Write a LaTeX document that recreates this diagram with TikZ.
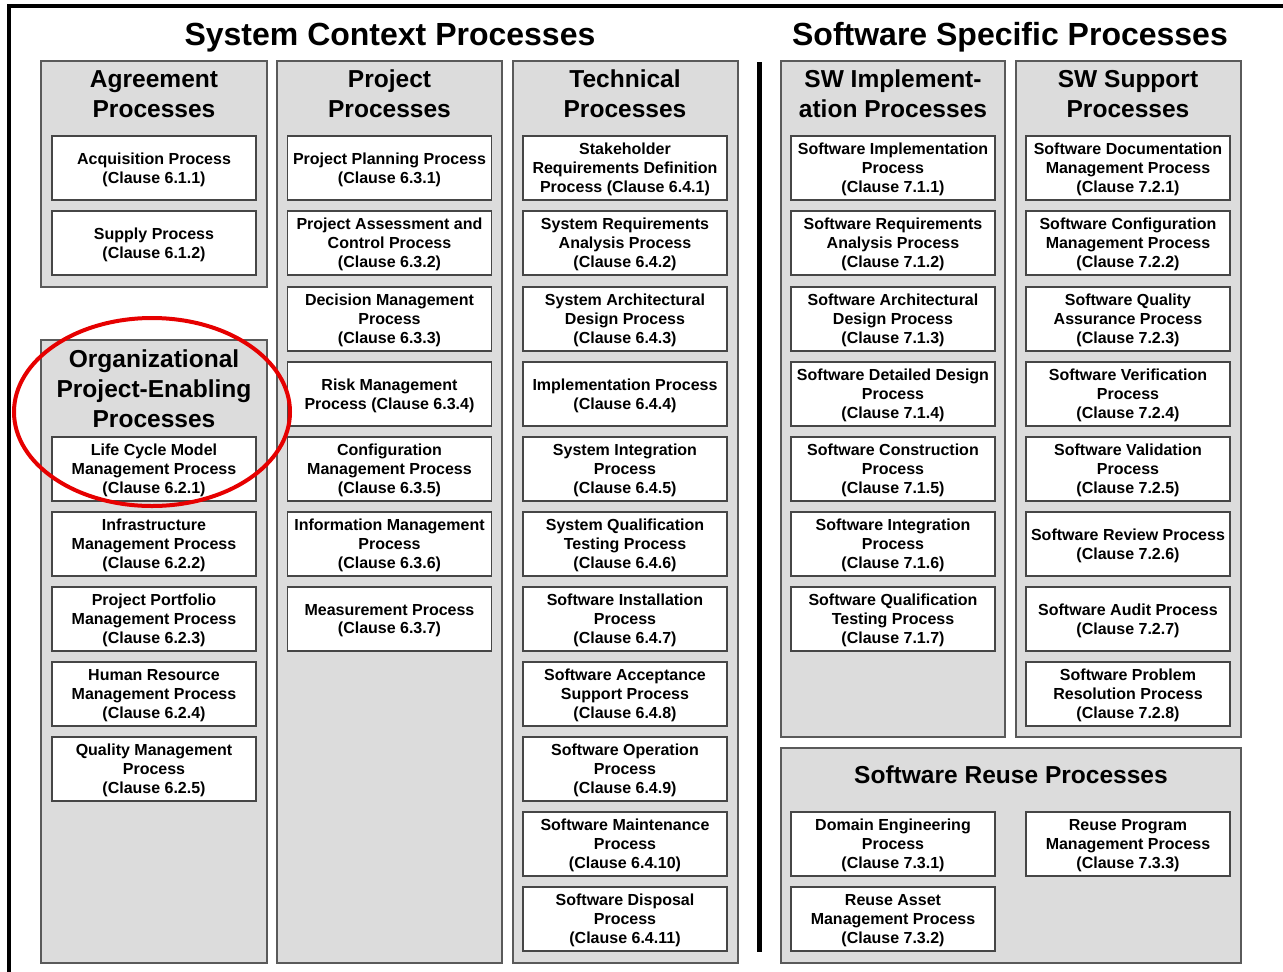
\documentclass[tikz,border=0pt]{standalone}
\usepackage{fontspec}
\setmainfont{Liberation Sans}
\usetikzlibrary{calc}

\definecolor{panelgray}{RGB}{220,220,220}
\definecolor{paneledge}{RGB}{90,90,90}
\definecolor{boxedge}{RGB}{70,70,70}
\definecolor{ringred}{RGB}{230,0,0}

\tikzset{
  panel/.style={fill=panelgray, draw=paneledge, line width=0.9pt},
  procbox/.style={draw=boxedge, fill=white, line width=0.9pt, minimum width=153pt,
    minimum height=48pt, inner sep=0pt, align=center, text depth=-4pt,
    font=\fontsize{12}{14.2}\selectfont\bfseries},
  panelhead/.style={align=center, inner sep=0pt, font=\fontsize{18.4}{22.5}\selectfont\bfseries},
  bigtitle/.style={inner sep=0pt, font=\fontsize{24}{28}\selectfont\bfseries},
}

\begin{document}
\begin{tikzpicture}[x=0.75pt, y=-0.75pt]
\useasboundingbox (0,0) rectangle (1283,972);
% frame and divider
\draw [line width=3pt] (1283,6) -- (9,6) -- (9,972);
\draw [line width=3.8pt] (759.5,62) -- (759.5,952);
% titles
\node [bigtitle] (ctx) at (390,37.5) {System Context Processes};
\node [bigtitle] (sws) at (1010,37.5) {Software Specific Processes};
% panels
\draw [panel] (41,61) rectangle (267,287); % agreement
\draw [panel] (41,340) rectangle (267,963); % organizational
\draw [panel] (277,61) rectangle (502,963); % project
\draw [panel] (513,61) rectangle (738,963); % technical
\draw [panel] (781,61) rectangle (1005,737); % sw implementation
\draw [panel] (1016,61) rectangle (1241,737); % sw support
\draw [panel] (781,748) rectangle (1241,963); % reuse
% panel headings
\node [panelhead] (hagr) at (154,94) {Agreement\\Processes};
\node [panelhead] (horg) at (154,389) {Organizational\\Project-Enabling\\Processes};
\node [panelhead] (hprj) at (389.5,94) {Project\\Processes};
\node [panelhead] (htec) at (625,94) {Technical\\Processes};
\node [panelhead] (himp) at (893,94) {SW Implement-\\ation Processes};
\node [panelhead] (hsup) at (1128,94) {SW Support\\Processes};
\node [panelhead] (hreu) at (1011,775) {Software Reuse Processes};
% agreement
\node [procbox] (agr1) at (154,168) {Acquisition Process\\(Clause 6.1.1)};
\node [procbox] (agr2) at (154,243) {Supply Process\\(Clause 6.1.2)};
% organizational
\node [procbox] (org1) at (154,469) {Life Cycle Model\\Management Process\\(Clause 6.2.1)};
\node [procbox] (org2) at (154,544) {Infrastructure\\Management Process\\(Clause 6.2.2)};
\node [procbox] (org3) at (154,619) {Project Portfolio\\Management Process\\(Clause 6.2.3)};
\node [procbox] (org4) at (154,694) {Human Resource\\Management Process\\(Clause 6.2.4)};
\node [procbox] (org5) at (154,769) {Quality Management\\Process\\(Clause 6.2.5)};
% project
\node [procbox] (prj1) at (389.5,168) {Project Planning Process\\(Clause 6.3.1)};
\node [procbox] (prj2) at (389.5,243) {Project Assessment and\\Control Process\\(Clause 6.3.2)};
\node [procbox] (prj3) at (389.5,319) {Decision Management\\Process\\(Clause 6.3.3)};
\node [procbox] (prj4) at (389.5,394) {Risk Management\\Process (Clause 6.3.4)};
\node [procbox] (prj5) at (389.5,469) {Configuration\\Management Process\\(Clause 6.3.5)};
\node [procbox] (prj6) at (389.5,544) {Information Management\\Process\\(Clause 6.3.6)};
\node [procbox] (prj7) at (389.5,619) {Measurement Process\\(Clause 6.3.7)};
% technical
\node [procbox] (tec1) at (625,168) {Stakeholder\\Requirements Definition\\Process (Clause 6.4.1)};
\node [procbox] (tec2) at (625,243) {System Requirements\\Analysis Process\\(Clause 6.4.2)};
\node [procbox] (tec3) at (625,319) {System Architectural\\Design Process\\(Clause 6.4.3)};
\node [procbox] (tec4) at (625,394) {Implementation Process\\(Clause 6.4.4)};
\node [procbox] (tec5) at (625,469) {System Integration\\Process\\(Clause 6.4.5)};
\node [procbox] (tec6) at (625,544) {System Qualification\\Testing Process\\(Clause 6.4.6)};
\node [procbox] (tec7) at (625,619) {Software Installation\\Process\\(Clause 6.4.7)};
\node [procbox] (tec8) at (625,694) {Software Acceptance\\Support Process\\(Clause 6.4.8)};
\node [procbox] (tec9) at (625,769) {Software Operation\\Process\\(Clause 6.4.9)};
\node [procbox] (tec10) at (625,844) {Software Maintenance\\Process\\(Clause 6.4.10)};
\node [procbox] (tec11) at (625,919) {Software Disposal\\Process\\(Clause 6.4.11)};
% sw implementation
\node [procbox] (imp1) at (893,168) {Software Implementation\\Process\\(Clause 7.1.1)};
\node [procbox] (imp2) at (893,243) {Software Requirements\\Analysis Process\\(Clause 7.1.2)};
\node [procbox] (imp3) at (893,319) {Software Architectural\\Design Process\\(Clause 7.1.3)};
\node [procbox] (imp4) at (893,394) {Software Detailed Design\\Process\\(Clause 7.1.4)};
\node [procbox] (imp5) at (893,469) {Software Construction\\Process\\(Clause 7.1.5)};
\node [procbox] (imp6) at (893,544) {Software Integration\\Process\\(Clause 7.1.6)};
\node [procbox] (imp7) at (893,619) {Software Qualification\\Testing Process\\(Clause 7.1.7)};
% sw support
\node [procbox] (sup1) at (1128,168) {Software Documentation\\Management Process\\(Clause 7.2.1)};
\node [procbox] (sup2) at (1128,243) {Software Configuration\\Management Process\\(Clause 7.2.2)};
\node [procbox] (sup3) at (1128,319) {Software Quality\\Assurance Process\\(Clause 7.2.3)};
\node [procbox] (sup4) at (1128,394) {Software Verification\\Process\\(Clause 7.2.4)};
\node [procbox] (sup5) at (1128,469) {Software Validation\\Process\\(Clause 7.2.5)};
\node [procbox] (sup6) at (1128,544) {Software Review Process\\(Clause 7.2.6)};
\node [procbox] (sup7) at (1128,619) {Software Audit Process\\(Clause 7.2.7)};
\node [procbox] (sup8) at (1128,694) {Software Problem\\Resolution Process\\(Clause 7.2.8)};
% reuse
\node [procbox] (reu1) at (893,844) {Domain Engineering\\Process\\(Clause 7.3.1)};
\node [procbox] (reu2) at (893,919) {Reuse Asset\\Management Process\\(Clause 7.3.2)};
\node [procbox] (reu3) at (1128,844) {Reuse Program\\Management Process\\(Clause 7.3.3)};
% highlight ring
\draw [ringred, line width=3pt] (152,412) ellipse [x radius=103.5pt, y radius=70.5pt];
\end{tikzpicture}
\end{document}
